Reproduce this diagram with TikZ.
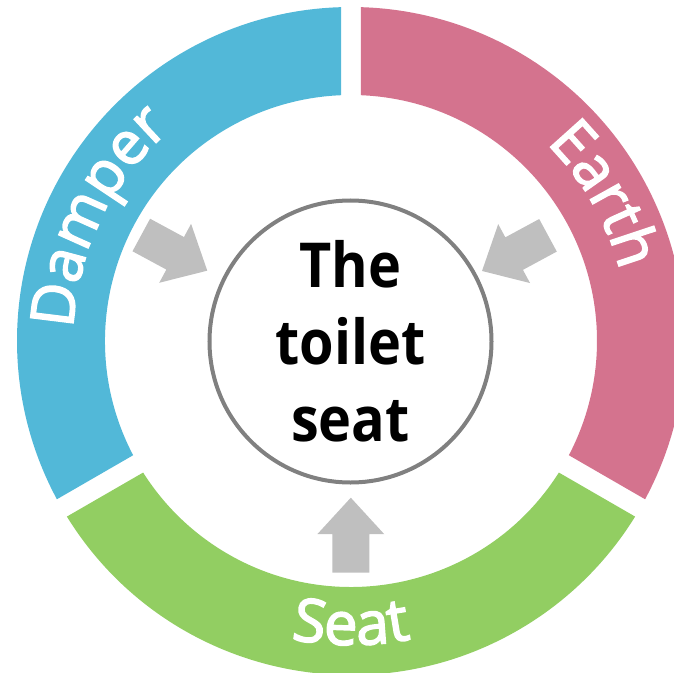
\documentclass[tikz,border=0pt]{standalone}
\usepackage{fontspec}
\setmainfont{Open Sans}
\newfontfamily\hubfam{Open Sans}[FakeStretch=0.9]
\newfontfamily\labelfam{Open Sans}[FakeBold=2.5]
\usetikzlibrary{decorations.text}
\definecolor{ringblue}{RGB}{82,184,216}
\definecolor{ringpink}{RGB}{212,115,142}
\definecolor{ringgreen}{RGB}{146,206,98}
\definecolor{arrowgray}{RGB}{191,191,191}
\definecolor{hubgray}{RGB}{128,128,128}
\begin{document}
\begin{tikzpicture}[x=1pt,y=1pt,
  ringlabel/.style={decorate, decoration={text along path, text align=center, text color=white}},
  blockarrow/.pic={\fill[arrowgray] (0,-18.5) -- (38.5,-18.5) -- (38.5,-33.5) -- (75,0) -- (38.5,33.5) -- (38.5,18.5) -- (0,18.5) -- cycle;}]
\useasboundingbox (-351,-331) rectangle (323,341);
\def\ro{334}\def\ri{246}
\pgfmathsetmacro{\dout}{asin(10/\ro)}
\pgfmathsetmacro{\din}{asin(10/\ri)}
\def\ringsector#1#2#3{%
  \pgfmathsetmacro{\aoA}{#1+\dout}\pgfmathsetmacro{\aoB}{#2-\dout}%
  \pgfmathsetmacro{\aiA}{#1+\din}\pgfmathsetmacro{\aiB}{#2-\din}%
  \fill[#3] (\aoA:\ro) arc[start angle=\aoA, end angle=\aoB, radius=\ro] -- (\aiB:\ri) arc[start angle=\aiB, end angle=\aiA, radius=\ri] -- cycle;}
\ringsector{90}{210}{ringblue}
\ringsector{-30}{90}{ringpink}
\ringsector{210}{330}{ringgreen}
\def\labelfont{\labelfam\fontsize{60}{72}\selectfont}
\path[ringlabel, decoration={text={|\labelfont|Damper}}] (184:278) arc[start angle=184, end angle=124, radius=278];
\path[ringlabel, decoration={text={|\labelfont|Earth}}] (60:278) arc[start angle=60, end angle=0, radius=278];
\path[ringlabel, decoration={text={|\labelfont|Seat}}] (240:304) arc[start angle=240, end angle=300, radius=304];
\node[circle, draw=hubgray, line width=4pt, minimum size=282pt, inner sep=0pt, align=center,
  font=\hubfam\bfseries\fontsize{62}{77}\selectfont] (hub) at (-0.5,-0.5) {The\\toilet\\seat};
\pic[rotate=-28.4] (arrowDamper) at (-209.7,106) {blockarrow};
\pic[rotate=208.4] (arrowEarth) at (197,105.7) {blockarrow};
\pic[rotate=90] (arrowSeat) at (-0.2,-231.7) {blockarrow};
\end{tikzpicture}
\end{document}
